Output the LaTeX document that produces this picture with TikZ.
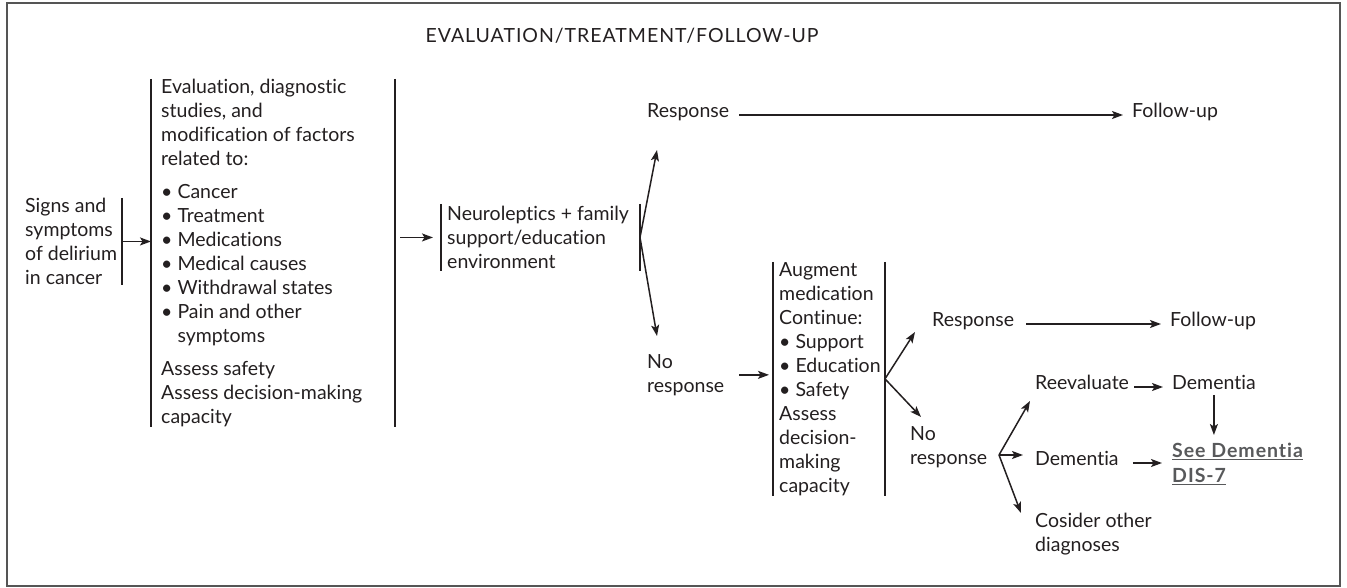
\documentclass[tikz,border=0pt]{standalone}
\usepackage{fontspec}
\setmainfont{Lato}[Ligatures=NoCommon]
\newfontfamily\widelato{Lato}[Ligatures=NoCommon,LetterSpace=5]
\usetikzlibrary{arrows.meta,calc}
\definecolor{ink}{HTML}{231F20}
\definecolor{linkgray}{HTML}{58595B}
\definecolor{framegray}{HTML}{555555}
\begin{document}
\begin{tikzpicture}[x=1pt,y=-1pt,
  every node/.style={text=ink, font=\fontsize{19.5}{24}\selectfont, inner sep=0pt},
  txt/.style={anchor=mid west},
  blk/.style={align=left, anchor=north west},
  bar/.style={line width=1.6pt, draw=ink},
  arr/.style={line width=1.5pt, draw=ink, -{Stealth[length=11pt,width=8pt,inset=2.5pt]}},
]
\useasboundingbox (0,0) rectangle (1347,588);
\draw[line width=1.6pt, draw=framegray] (7,3) rectangle (1340,586);

\node[font=\widelato\fontsize{19.5}{24}\selectfont] (title) at (622,36) {EVALUATION/TREATMENT/FOLLOW-UP};

% signs
\node[blk] (sig) at (25,198) {Signs and\\symptoms\\of delirium\\in cancer};
\coordinate (r1) at (122,0);
\draw[bar] (sig.north west -| r1) -- (sig.south west -| r1);

% evaluation block
\node[blk, inner xsep=10pt] (box2) at (151,79) {Evaluation, diagnostic\\studies, and\\modification of factors\\related to:\\[9pt]•~Cancer\\•~Treatment\\•~Medications\\•~Medical causes\\•~Withdrawal states\\•~Pain and other\\\hphantom{•~}symptoms\\[9pt]Assess safety\\Assess decision-making\\capacity};
\coordinate (r2) at (395,0);
\draw[bar] (box2.north west) -- (box2.south west);
\draw[bar] (box2.north west -| r2) -- (box2.south west -| r2);

% neuroleptics
\node[blk, inner xsep=6pt, inner ysep=2pt] (neu) at (441,204) {Neuroleptics + family\\support/education\\environment};
\coordinate (r3) at (640,0);
\draw[bar] (neu.north west) -- (neu.south west);
\draw[bar] (neu.north west -| r3) -- (neu.south west -| r3);

% augment
\node[blk, inner xsep=6pt] (aug) at (773,262) {Augment\\medication\\Continue:\\•~Support\\•~Education\\•~Safety\\Assess\\decision-\\making\\capacity};
\coordinate (r4) at (885,0);
\draw[bar] (aug.north west) -- (aug.south west);
\draw[bar] (aug.north west -| r4) -- (aug.south west -| r4);

% outcome texts
\node[txt] (resp1) at (647,115) {Response};
\node[txt] (fu1) at (1132,115) {Follow-up};
\node[blk] (nr1) at (647,354) {No\\response};
\node[txt] (resp2) at (932,324) {Response};
\node[txt] (fu2) at (1170,324) {Follow-up};
\node[blk] (nr2) at (910,426) {No\\response};
\node[txt] (reev) at (1035,387) {Reevaluate};
\node[txt] (dem1) at (1172,387) {Dementia};
\node[txt] (dem2) at (1035,463) {Dementia};
\node[blk, text=linkgray, font=\widelato\fontsize{19.5}{25}\selectfont\bfseries] (see) at (1172,443) {\underline{See Dementia}\\\underline{DIS-7}};
\node[blk] (cos) at (1035,513) {Cosider other\\diagnoses};

% fork points and tips
\coordinate (f1) at (neu.east -| r3);
\coordinate (t1) at (657,150);
\coordinate (t2) at (657,336);
\coordinate (f2) at (aug.east -| r4);
\coordinate (t3) at (915,332);
\coordinate (t4) at (921,417);
\coordinate (f3) at (999,455);
\coordinate (t5) at (1030,401);
\coordinate (t6) at (1023,455);
\coordinate (t7) at (1021,513);

% connectors
\draw[arr] (sig.west -| r1) -- (sig.west -| box2.west);
\draw[arr, shorten <=5pt, shorten >=8pt] (neu.west -| r2) -- (neu.west);
\draw[arr] (f1) -- (t1);
\draw[arr] (f1) -- (t2);
\draw[arr, shorten <=10pt, shorten >=9pt] (resp1.mid east) -- (fu1.mid west);
\draw[arr, shorten <=15pt, shorten >=4pt] (nr1.east) -- (nr1.east -| aug.west);
\draw[arr] (f2) -- (t3);
\draw[arr] (f2) -- (t4);
\draw[arr, shorten <=12pt, shorten >=9pt] (resp2.mid east) -- (fu2.mid west);
\draw[arr] (f3) -- (t5);
\draw[arr] (f3) -- (t6);
\draw[arr] (f3) -- (t7);
\draw[arr, shorten <=5pt, shorten >=9pt] (reev.mid east) -- (dem1.mid west);
\draw[arr, shorten <=14pt, shorten >=10pt] (dem2.mid east) -- (see.west |- dem2.mid east);
\draw[arr, shorten <=5pt, shorten >=8pt] (dem1.south) -- (dem1.south |- see.north);
\end{tikzpicture}
\end{document}
